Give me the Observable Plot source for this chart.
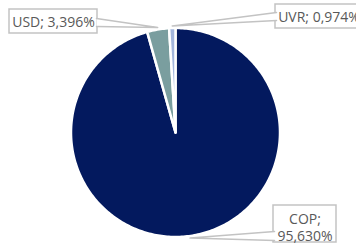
<!DOCTYPE html>
<html>
<head>
<meta charset="utf-8">
<script src="https://cdn.jsdelivr.net/npm/d3@7"></script>
<script src="https://cdn.jsdelivr.net/npm/@observablehq/plot@0.6"></script>
<style>
  html, body { margin: 0; padding: 0; background: #ffffff; }
  #chart svg { display: block; }
</style>
</head>
<body>
<div id="chart"></div>
<script>
// ---- data ----
const categories = ["COP", "USD", "UVR"];
const values = [95.630, 3.396, 0.974];
const colors = ["#03195E", "#7A9E9F", "#A3B6DC"];

// ---- layout (pixels) ----
const W = 356, H = 247;
const cx = 175, cy = 132, R = 104.5;
const labelLayout = {
  COP: {x1: 273, x2: 336, y1: 205, y2: 242, tx: 304.5, ty: 226.5, wrap: true,  bx: 274, b1: 231, b2: 240},
  USD: {x1: 9,   x2: 97,  y1: 9,   y2: 33,  tx: 53,    ty: 21,    wrap: false, bx: 96,  b1: 18,  b2: 26},
  UVR: {x1: 275, x2: 363, y1: 4,   y2: 28,  tx: 318.5, ty: 16,    wrap: false, bx: 276, b1: 12,  b2: 20}
};

const fmt = v => v.toFixed(3).replace(".", ",") + "%";

const pie = d3.pie().sort(null).value(d => d.value)(
  categories.map((c, i) => ({cat: c, value: values[i]}))
);

const pt = (a, r) => ({x: cx + r * Math.sin(a), y: cy - r * Math.cos(a)});

const sliceMarks = pie.map((s, i) => {
  const pts = [{...pt(0, 0)}];
  const n = Math.max(2, Math.ceil((s.endAngle - s.startAngle) / (Math.PI / 180)));
  for (let k = 0; k <= n; k++) {
    const a = s.startAngle + (s.endAngle - s.startAngle) * k / n;
    pts.push(pt(a, R));
  }
  return Plot.line(pts, {
    x: "x", y: "y", fill: colors[i], stroke: "#ffffff",
    strokeWidth: 2.5, strokeLinejoin: "round", curve: "linear-closed"
  });
});

const boxes = categories.map(c => ({cat: c, ...labelLayout[c]}));

const pointerMarks = pie.map(s => {
  const L = labelLayout[s.data.cat];
  const mid = (s.startAngle + s.endAngle) / 2;
  const tip = pt(mid, R * 1.02);
  const pts = [{x: L.bx, y: L.b1}, tip, {x: L.bx, y: L.b2}];
  return Plot.line(pts, {
    x: "x", y: "y", fill: "#ffffff", stroke: "#C3C3C3", strokeWidth: 1.5, curve: "linear"
  });
});

const texts = pie.map(s => {
  const L = labelLayout[s.data.cat];
  return {
    x: L.tx, y: L.ty,
    label: s.data.cat + ";" + (L.wrap ? "\n" : " ") + fmt(s.data.value)
  };
});

const chart = Plot.plot({
  width: W, height: H, margin: 0,
  style: {background: "#ffffff"},
  x: {domain: [0, W], range: [0, W], axis: null},
  y: {domain: [0, H], range: [0, H], axis: null},
  marks: [
    ...sliceMarks,
    Plot.rect(boxes, {x1: "x1", x2: "x2", y1: "y1", y2: "y2", fill: "#ffffff", stroke: "#C3C3C3", strokeWidth: 1.5}),
    ...pointerMarks,
    Plot.text(texts, {
      x: "x", y: "y", text: "label", fill: "#595959",
      fontSize: 14, fontFamily: "Open Sans", textAnchor: "middle",
      lineAnchor: "middle", lineHeight: 1.22
    })
  ]
});
document.getElementById("chart").appendChild(chart);
</script>
</body>
</html>
